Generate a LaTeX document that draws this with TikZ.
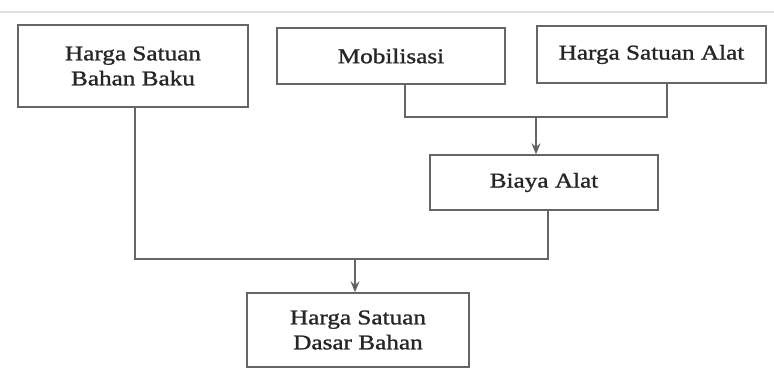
\documentclass[tikz,border=0pt]{standalone}
\usepackage{fontspec}
\setmainfont[FakeStretch=1.2,FakeBold=1.2]{Liberation Serif}
\usetikzlibrary{arrows.meta}
\begin{document}
\begin{tikzpicture}[x=1pt,y=-1pt,
  box/.style={draw=black!60,line width=1.4pt,fill=white,inner sep=0pt,
    font=\fontsize{21}{25}\selectfont,align=center,text=black!85},
  link/.style={draw=black!60,line width=1.4pt},
  arr/.style={link,-{Stealth[length=11pt,width=9pt,fill=black!75]}}]
\useasboundingbox[fill=white] (0,0) rectangle (774,375);
\draw[black!12,line width=2pt] (0,12) -- (774,12);
% input boxes
\node[box,minimum width=230pt,minimum height=82pt] (bahan) at (133,66) {Harga Satuan\\Bahan Baku};
\node[box,minimum width=228pt,minimum height=56pt] (mob) at (391,56) {Mobilisasi};
\node[box,minimum width=229pt,minimum height=57pt] (hsa) at (651.5,54.5) {Harga Satuan Alat};
% intermediate and result
\node[box,minimum width=228pt,minimum height=55pt] (biaya) at (544,182.5) {Biaya Alat};
\node[box,minimum width=222pt,minimum height=74pt] (hsdb) at (358,330) {Harga Satuan\\Dasar Bahan};
% joins
\coordinate (j1) at (536,117);
\coordinate (j2) at (355,259);
\draw[link] (mob.south -| 405,0) |- (j1) -| (hsa.south -| 667,0);
\draw[arr] (j1) -- (biaya.north -| j1);
\draw[link] (bahan.south -| 135,0) |- (j2) -| (biaya.south -| 548,0);
\draw[arr] (j2) -- (hsdb.north -| j2);
\end{tikzpicture}
\end{document}
